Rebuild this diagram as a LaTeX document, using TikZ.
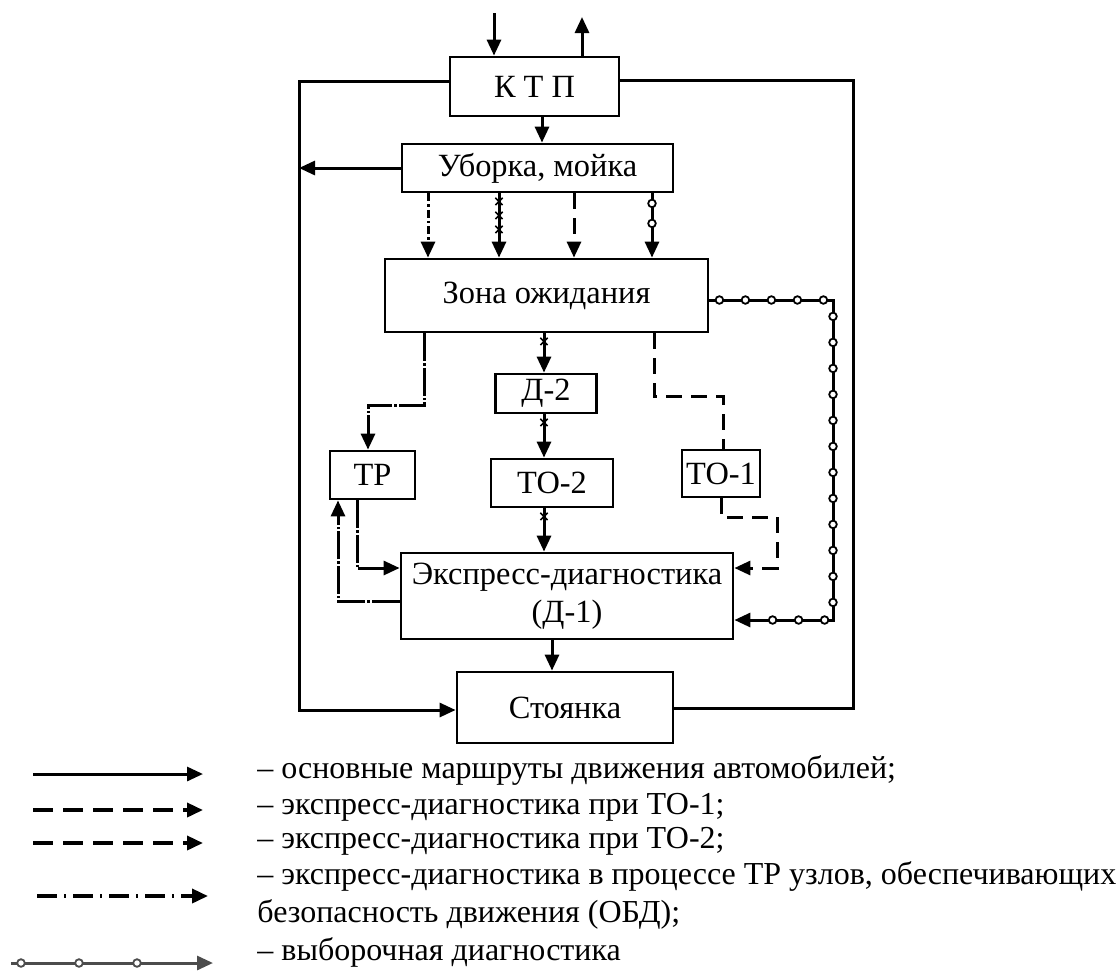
\documentclass[tikz,border=0pt]{standalone}
\usepackage{fontspec}
\setmainfont{Liberation Serif}
\usepackage{tikz}
\usetikzlibrary{positioning, arrows.meta, decorations.markings}
\tikzset{
    block/.style = {rectangle, draw = black, line width = 1.4pt, inner sep = 0pt, align = center, font = \fontsize{16.2}{19}\selectfont},
    legend/.style = {anchor = west, inner sep = 0pt, text height = 1.5ex, text depth = .3ex, font = \fontsize{16}{19}\selectfont},
    bare/.style = {line width = 1.5pt},
    route/.style = {bare, -{Triangle[length = 8pt, width = 7pt]}},
    tooneline/.style = {bare, dash pattern = on 8pt off 4.5pt},
    tooneroute/.style = {route, dash pattern = on 8pt off 4.5pt},
    obdroute/.style = {route, dash pattern = on 14pt off 1pt on 1.2pt off 1pt},
    totworoute/.style = {route, postaction = {decorate, decoration = {markings,
        mark = between positions 4pt and -13pt step 7pt with {\draw[-, line width = 0.8pt, solid] (-1.8pt,-1.8pt) -- (1.8pt,1.8pt) (-1.8pt,1.8pt) -- (1.8pt,-1.8pt);}}}},
    selroute/.style = {route, postaction = {decorate, decoration = {markings,
        mark = between positions 5pt and -15pt step #1 with {\draw[-, line width = 0.9pt, solid, fill = white] (0,0) circle (1.9pt);}}}},
    selroute/.default = 14pt
}

\begin{document}
\begin{tikzpicture}[x = 0.5pt, y = -0.5pt]
    \useasboundingbox (0,0) rectangle (1120,971);
    % blocks
    \node [block, minimum width = 84.5pt, minimum height = 29.5pt] (ktp) at (534.5,86.5) {К Т П};
    \node [block, minimum width = 135.5pt, minimum height = 24pt] (wash) at (537.5,168) {Уборка, мойка};
    \node [block, minimum width = 161.5pt, minimum height = 36.5pt] (wait) at (546.5,295.5) {Зона ожидания};
    \node [block, minimum width = 50.5pt, minimum height = 19.5pt] (dtwo) at (546,393.5) {Д-2};
    \node [block, minimum width = 61pt, minimum height = 24pt] (totwo) at (552,483) {ТО-2};
    \node [block, minimum width = 42.5pt, minimum height = 24pt] (tr) at (372.5,475) {ТР};
    \node [block, minimum width = 39pt, minimum height = 23.5pt] (toone) at (721,473.5) {ТО-1};
    \node [block, minimum width = 166pt, minimum height = 43pt] (express) at (567,596) {Экспресс-диагностика\\(Д-1)};
    \node [block, minimum width = 108pt, minimum height = 35.5pt] (park) at (565,707.5) {Стоянка};
    \coordinate (entry) at (494,13);
    \coordinate (exit) at (582,17);

    % main routes
    \draw [route] (entry) -- (entry |- ktp.north);
    \draw [route] (exit |- ktp.north) -- (exit);
    \draw [route] (ktp.south -| 542,0) -- (wash.north -| 542,0);
    \draw [route] (ktp.west |- 0,81) -- (299,81) -- (299,710) -- (park.west |- 0,710);
    \draw [route] (wash.west) -- (299,168);
    \draw [bare] (park.east |- 0,708) -- (853,708) -- (853,80) -- (ktp.east |- 0,80);
    \draw [route] (express.south -| 552,0) -- (park.north -| 552,0);

    % wash -> waiting zone
    \draw [obdroute, dash pattern = on 4pt off 1.5pt on 1.2pt off 1.5pt] (wash.south -| 428,0) -- (wait.north -| 428,0);
    \draw [totworoute] (wash.south -| 499,0) -- (wait.north -| 499,0);
    \draw [tooneroute] (wash.south -| 574,0) -- (wait.north -| 574,0);
    \draw [selroute = 10pt] (wash.south -| 652,0) -- (wait.north -| 652,0);

    % TO-2 line
    \draw [totworoute] (wait.south -| 544,0) -- (dtwo.north -| 544,0);
    \draw [totworoute] (dtwo.south -| 544,0) -- (totwo.north -| 544,0);
    \draw [totworoute] (totwo.south -| 544,0) -- (express.north -| 544,0);

    % TR loop
    \draw [obdroute] (wait.south -| 424,0) -- (424,405) -- (368,405) -- (tr.north -| 368,0);
    \draw [obdroute] (tr.south -| 357,0) -- (357,568) -- (express.west |- 0,568);
    \draw [obdroute] (express.west |- 0,601) -- (338,601) -- (tr.south -| 338,0);

    % TO-1 line
    \draw [tooneline] (wait.south -| 654,0) -- (654,396) -- (723,396) -- (toone.north -| 723,0);
    \draw [tooneroute] (toone.south -| 721,0) -- (721,517) -- (777,517) -- (777,568) -- (express.east |- 0,568);

    % selective diagnostics
    \draw [selroute = 13pt] (wait.east |- 0,300) -- (833,300) -- (833,620) -- (express.east |- 0,620);

    % legend
    \foreach \i/\y/\xa/\xb in {1/774/33/203, 2/810/33/203, 3/843/33/203, 4/896/37/208, 5/963/11/213} {
        \coordinate (ka\i) at (\xa,\y);
        \coordinate (kb\i) at (\xb,\y);
    }
    \draw [route] (ka1) -- (kb1);
    \draw [route, line width = 1.8pt, dash pattern = on 10pt off 5pt] (ka2) -- (kb2);
    \draw [route, line width = 1.8pt, dash pattern = on 10pt off 5pt] (ka3) -- (kb3);
    \draw [route, line width = 1.8pt, dash pattern = on 10pt off 3.5pt on 1pt off 3.5pt] (ka4) -- (kb4);
    \draw [selroute = 29pt, draw = black!70] (ka5) -- (kb5);
    \node [legend] (t1) at (257,773) {– основные маршруты движения автомобилей;};
    \node [legend] (t2) at (257,809) {– экспресс-диагностика при ТО-1;};
    \node [legend] (t3) at (257,843) {– экспресс-диагностика при ТО-2;};
    \node [legend] (t4) at (257,879) {– экспресс-диагностика в процессе ТР узлов, обеспечивающих};
    \node [legend] (t5) at (257,917) {безопасность движения (ОБД);};
    \node [legend] (t6) at (257,955) {– выборочная диагностика};
\end{tikzpicture}
\end{document}
